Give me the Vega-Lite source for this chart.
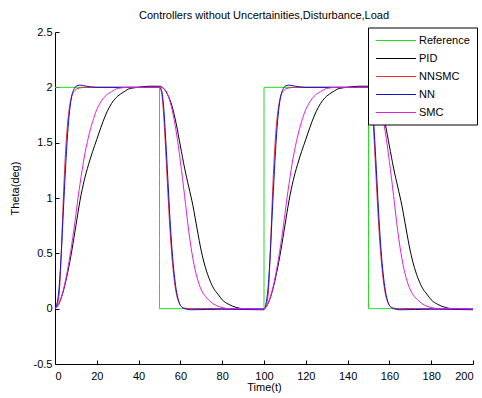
{
  "$schema": "https://vega.github.io/schema/vega-lite/v6.json",
  "width": 418,
  "height": 332,
  "autosize": {"type": "none"},
  "padding": {"left": 55, "top": 32, "right": 9, "bottom": 34},
  "background": "white",
  "title": {"text": "Controllers without Uncertainities,Disturbance,Load", "font": "Liberation Sans", "fontSize": 11, "fontWeight": "normal", "color": "#000", "anchor": "middle", "offset": 5},
  "config": {
    "view": {"stroke": null},
    "axis": {"grid": false, "domainColor": "#000", "tickColor": "#000", "labelColor": "#000", "titleColor": "#000", "labelFont": "Liberation Sans", "titleFont": "Liberation Sans", "labelFontSize": 11, "titleFontSize": 11, "titleFontWeight": "normal", "tickSize": -4, "domainWidth": 1, "tickWidth": 1},
    "legend": {"labelFont": "Liberation Sans", "labelFontSize": 11, "labelColor": "#000"}
  },
  "data": {"values": [
    {"s":"Reference","t":0,"y":2},{"s":"Reference","t":50,"y":2},{"s":"Reference","t":50,"y":0},{"s":"Reference","t":100,"y":0},{"s":"Reference","t":100,"y":2},{"s":"Reference","t":150,"y":2},{"s":"Reference","t":150,"y":0},{"s":"Reference","t":200,"y":0},

    {"s":"PID","t":0,"y":0},{"s":"PID","t":2,"y":0.05},{"s":"PID","t":4,"y":0.16},{"s":"PID","t":6,"y":0.32},{"s":"PID","t":8,"y":0.52},{"s":"PID","t":10,"y":0.75},{"s":"PID","t":12,"y":0.98},{"s":"PID","t":14,"y":1.16},{"s":"PID","t":16,"y":1.3},{"s":"PID","t":18,"y":1.42},{"s":"PID","t":20,"y":1.53},{"s":"PID","t":22,"y":1.64},{"s":"PID","t":24,"y":1.74},{"s":"PID","t":26,"y":1.82},{"s":"PID","t":28,"y":1.88},{"s":"PID","t":30,"y":1.92},{"s":"PID","t":33,"y":1.96},{"s":"PID","t":36,"y":1.99},{"s":"PID","t":40,"y":2.0},{"s":"PID","t":45,"y":2.01},{"s":"PID","t":50,"y":2.01},
    {"s":"PID","t":52,"y":1.99},{"s":"PID","t":54,"y":1.93},{"s":"PID","t":56,"y":1.83},{"s":"PID","t":58,"y":1.67},{"s":"PID","t":60,"y":1.47},{"s":"PID","t":62,"y":1.27},{"s":"PID","t":64,"y":1.1},{"s":"PID","t":66,"y":0.93},{"s":"PID","t":68,"y":0.72},{"s":"PID","t":70,"y":0.52},{"s":"PID","t":72,"y":0.37},{"s":"PID","t":74,"y":0.26},{"s":"PID","t":76,"y":0.18},{"s":"PID","t":78,"y":0.13},{"s":"PID","t":80,"y":0.08},{"s":"PID","t":83,"y":0.04},{"s":"PID","t":87,"y":0.01},{"s":"PID","t":90,"y":0},{"s":"PID","t":100,"y":0},
    {"s":"PID","t":102,"y":0.05},{"s":"PID","t":104,"y":0.16},{"s":"PID","t":106,"y":0.32},{"s":"PID","t":108,"y":0.52},{"s":"PID","t":110,"y":0.75},{"s":"PID","t":112,"y":0.98},{"s":"PID","t":114,"y":1.16},{"s":"PID","t":116,"y":1.3},{"s":"PID","t":118,"y":1.42},{"s":"PID","t":120,"y":1.53},{"s":"PID","t":122,"y":1.64},{"s":"PID","t":124,"y":1.74},{"s":"PID","t":126,"y":1.82},{"s":"PID","t":128,"y":1.88},{"s":"PID","t":130,"y":1.92},{"s":"PID","t":133,"y":1.96},{"s":"PID","t":136,"y":1.99},{"s":"PID","t":140,"y":2.0},{"s":"PID","t":145,"y":2.01},{"s":"PID","t":150,"y":2.01},
    {"s":"PID","t":152,"y":1.99},{"s":"PID","t":154,"y":1.93},{"s":"PID","t":156,"y":1.83},{"s":"PID","t":158,"y":1.67},{"s":"PID","t":160,"y":1.47},{"s":"PID","t":162,"y":1.27},{"s":"PID","t":164,"y":1.1},{"s":"PID","t":166,"y":0.93},{"s":"PID","t":168,"y":0.72},{"s":"PID","t":170,"y":0.52},{"s":"PID","t":172,"y":0.37},{"s":"PID","t":174,"y":0.26},{"s":"PID","t":176,"y":0.18},{"s":"PID","t":178,"y":0.13},{"s":"PID","t":180,"y":0.08},{"s":"PID","t":183,"y":0.04},{"s":"PID","t":187,"y":0.01},{"s":"PID","t":190,"y":0},{"s":"PID","t":200,"y":0},

    {"s":"NNSMC","t":0,"y":0},{"s":"NNSMC","t":1,"y":0.03},{"s":"NNSMC","t":2,"y":0.13},{"s":"NNSMC","t":3,"y":0.5},{"s":"NNSMC","t":4,"y":1.0},{"s":"NNSMC","t":5,"y":1.4},{"s":"NNSMC","t":6,"y":1.67},{"s":"NNSMC","t":7,"y":1.83},{"s":"NNSMC","t":8,"y":1.92},{"s":"NNSMC","t":9,"y":1.96},{"s":"NNSMC","t":10,"y":1.98},{"s":"NNSMC","t":12,"y":1.995},{"s":"NNSMC","t":15,"y":2.0},{"s":"NNSMC","t":50,"y":2.0},
    {"s":"NNSMC","t":51,"y":1.95},{"s":"NNSMC","t":52,"y":1.75},{"s":"NNSMC","t":53,"y":1.42},{"s":"NNSMC","t":54,"y":1.05},{"s":"NNSMC","t":55,"y":0.72},{"s":"NNSMC","t":56,"y":0.46},{"s":"NNSMC","t":57,"y":0.27},{"s":"NNSMC","t":58,"y":0.14},{"s":"NNSMC","t":59,"y":0.07},{"s":"NNSMC","t":60,"y":0.03},{"s":"NNSMC","t":62,"y":0.005},{"s":"NNSMC","t":65,"y":0},{"s":"NNSMC","t":100,"y":0},
    {"s":"NNSMC","t":101,"y":0.03},{"s":"NNSMC","t":102,"y":0.13},{"s":"NNSMC","t":103,"y":0.5},{"s":"NNSMC","t":104,"y":1.0},{"s":"NNSMC","t":105,"y":1.4},{"s":"NNSMC","t":106,"y":1.67},{"s":"NNSMC","t":107,"y":1.83},{"s":"NNSMC","t":108,"y":1.92},{"s":"NNSMC","t":109,"y":1.96},{"s":"NNSMC","t":110,"y":1.98},{"s":"NNSMC","t":112,"y":1.995},{"s":"NNSMC","t":115,"y":2.0},{"s":"NNSMC","t":150,"y":2.0},
    {"s":"NNSMC","t":151,"y":1.95},{"s":"NNSMC","t":152,"y":1.75},{"s":"NNSMC","t":153,"y":1.42},{"s":"NNSMC","t":154,"y":1.05},{"s":"NNSMC","t":155,"y":0.72},{"s":"NNSMC","t":156,"y":0.46},{"s":"NNSMC","t":157,"y":0.27},{"s":"NNSMC","t":158,"y":0.14},{"s":"NNSMC","t":159,"y":0.07},{"s":"NNSMC","t":160,"y":0.03},{"s":"NNSMC","t":162,"y":0.005},{"s":"NNSMC","t":165,"y":0},{"s":"NNSMC","t":200,"y":0},

    {"s":"NN","t":0,"y":0},{"s":"NN","t":1,"y":0.05},{"s":"NN","t":2,"y":0.2},{"s":"NN","t":3,"y":0.5},{"s":"NN","t":4,"y":0.88},{"s":"NN","t":5,"y":1.25},{"s":"NN","t":6,"y":1.57},{"s":"NN","t":7,"y":1.79},{"s":"NN","t":8,"y":1.92},{"s":"NN","t":9,"y":1.98},{"s":"NN","t":10,"y":2.01},{"s":"NN","t":12,"y":2.02},{"s":"NN","t":15,"y":2.01},{"s":"NN","t":20,"y":2.0},{"s":"NN","t":50,"y":2.0},
    {"s":"NN","t":51,"y":1.97},{"s":"NN","t":52,"y":1.82},{"s":"NN","t":53,"y":1.52},{"s":"NN","t":54,"y":1.17},{"s":"NN","t":55,"y":0.82},{"s":"NN","t":56,"y":0.53},{"s":"NN","t":57,"y":0.32},{"s":"NN","t":58,"y":0.17},{"s":"NN","t":59,"y":0.08},{"s":"NN","t":60,"y":0.03},{"s":"NN","t":62,"y":0.0},{"s":"NN","t":65,"y":-0.01},{"s":"NN","t":80,"y":-0.005},{"s":"NN","t":100,"y":-0.01},
    {"s":"NN","t":101,"y":0.05},{"s":"NN","t":102,"y":0.2},{"s":"NN","t":103,"y":0.5},{"s":"NN","t":104,"y":0.88},{"s":"NN","t":105,"y":1.25},{"s":"NN","t":106,"y":1.57},{"s":"NN","t":107,"y":1.79},{"s":"NN","t":108,"y":1.92},{"s":"NN","t":109,"y":1.98},{"s":"NN","t":110,"y":2.01},{"s":"NN","t":112,"y":2.02},{"s":"NN","t":115,"y":2.01},{"s":"NN","t":120,"y":2.0},{"s":"NN","t":150,"y":2.0},
    {"s":"NN","t":151,"y":1.97},{"s":"NN","t":152,"y":1.82},{"s":"NN","t":153,"y":1.52},{"s":"NN","t":154,"y":1.17},{"s":"NN","t":155,"y":0.82},{"s":"NN","t":156,"y":0.53},{"s":"NN","t":157,"y":0.32},{"s":"NN","t":158,"y":0.17},{"s":"NN","t":159,"y":0.08},{"s":"NN","t":160,"y":0.03},{"s":"NN","t":162,"y":0.0},{"s":"NN","t":165,"y":-0.01},{"s":"NN","t":180,"y":-0.005},{"s":"NN","t":200,"y":-0.01},

    {"s":"SMC","t":0,"y":0},{"s":"SMC","t":2,"y":0.05},{"s":"SMC","t":4,"y":0.17},{"s":"SMC","t":6,"y":0.35},{"s":"SMC","t":8,"y":0.58},{"s":"SMC","t":10,"y":0.85},{"s":"SMC","t":11,"y":1.0},{"s":"SMC","t":12,"y":1.13},{"s":"SMC","t":14,"y":1.37},{"s":"SMC","t":16,"y":1.55},{"s":"SMC","t":18,"y":1.69},{"s":"SMC","t":20,"y":1.8},{"s":"SMC","t":22,"y":1.87},{"s":"SMC","t":24,"y":1.92},{"s":"SMC","t":27,"y":1.96},{"s":"SMC","t":30,"y":1.99},{"s":"SMC","t":35,"y":2.0},{"s":"SMC","t":50,"y":2.0},
    {"s":"SMC","t":52,"y":1.99},{"s":"SMC","t":54,"y":1.93},{"s":"SMC","t":56,"y":1.8},{"s":"SMC","t":58,"y":1.6},{"s":"SMC","t":60,"y":1.33},{"s":"SMC","t":62,"y":1.02},{"s":"SMC","t":64,"y":0.7},{"s":"SMC","t":66,"y":0.45},{"s":"SMC","t":68,"y":0.28},{"s":"SMC","t":70,"y":0.17},{"s":"SMC","t":72,"y":0.11},{"s":"SMC","t":74,"y":0.07},{"s":"SMC","t":77,"y":0.03},{"s":"SMC","t":80,"y":0.01},{"s":"SMC","t":84,"y":0},{"s":"SMC","t":100,"y":0},
    {"s":"SMC","t":102,"y":0.05},{"s":"SMC","t":104,"y":0.17},{"s":"SMC","t":106,"y":0.35},{"s":"SMC","t":108,"y":0.58},{"s":"SMC","t":110,"y":0.85},{"s":"SMC","t":111,"y":1.0},{"s":"SMC","t":112,"y":1.13},{"s":"SMC","t":114,"y":1.37},{"s":"SMC","t":116,"y":1.55},{"s":"SMC","t":118,"y":1.69},{"s":"SMC","t":120,"y":1.8},{"s":"SMC","t":122,"y":1.87},{"s":"SMC","t":124,"y":1.92},{"s":"SMC","t":127,"y":1.96},{"s":"SMC","t":130,"y":1.99},{"s":"SMC","t":135,"y":2.0},{"s":"SMC","t":150,"y":2.0},
    {"s":"SMC","t":152,"y":1.99},{"s":"SMC","t":154,"y":1.93},{"s":"SMC","t":156,"y":1.8},{"s":"SMC","t":158,"y":1.6},{"s":"SMC","t":160,"y":1.33},{"s":"SMC","t":162,"y":1.02},{"s":"SMC","t":164,"y":0.7},{"s":"SMC","t":166,"y":0.45},{"s":"SMC","t":168,"y":0.28},{"s":"SMC","t":170,"y":0.17},{"s":"SMC","t":172,"y":0.11},{"s":"SMC","t":174,"y":0.07},{"s":"SMC","t":177,"y":0.03},{"s":"SMC","t":180,"y":0.01},{"s":"SMC","t":184,"y":0},{"s":"SMC","t":200,"y":0}
  ]},
  "mark": {"type": "line", "strokeWidth": 1, "interpolate": "monotone"},
  "encoding": {
    "x": {"field": "t", "type": "quantitative", "scale": {"domain": [0, 200], "nice": false}, "axis": {"title": "Time(t)", "values": [0,20,40,60,80,100,120,140,160,180,200], "labelPadding": 10, "titlePadding": 0}},
    "y": {"field": "y", "type": "quantitative", "scale": {"domain": [-0.5, 2.5], "nice": false, "zero": false}, "axis": {"title": "Theta(deg)", "values": [-0.5,0,0.5,1,1.5,2,2.5], "labelExpr": "'' + datum.value", "labelPadding": 7, "titleX": -40, "titleY": 156, "titleAlign": "center", "titleAngle": -90, "titleBaseline": "middle"}},
    "color": {"field": "s", "type": "nominal", "sort": ["Reference","PID","NNSMC","NN","SMC"], "scale": {"domain": ["Reference","PID","NNSMC","NN","SMC"], "range": ["#22dd22","#000000","#e8282e","#1010d8","#e020e0"]},
      "legend": {"title": null, "orient": "none", "legendX": 313, "legendY": -4.5, "symbolType": "M-1,0H7", "symbolSize": 100, "symbolStrokeWidth": 1.2, "symbolOpacity": 1, "labelOffset": 32, "padding": 7, "rowPadding": 7, "strokeColor": "#000", "fillColor": "#fff", "cornerRadius": 0,
        "encode": {"symbols": {"update": {"stroke": {"scale": "color", "field": "value"}, "fill": {"value": "transparent"}, "opacity": {"value": 1}, "strokeOpacity": {"value": 1}}}}}},
    "order": {"value": null}
  }
}
